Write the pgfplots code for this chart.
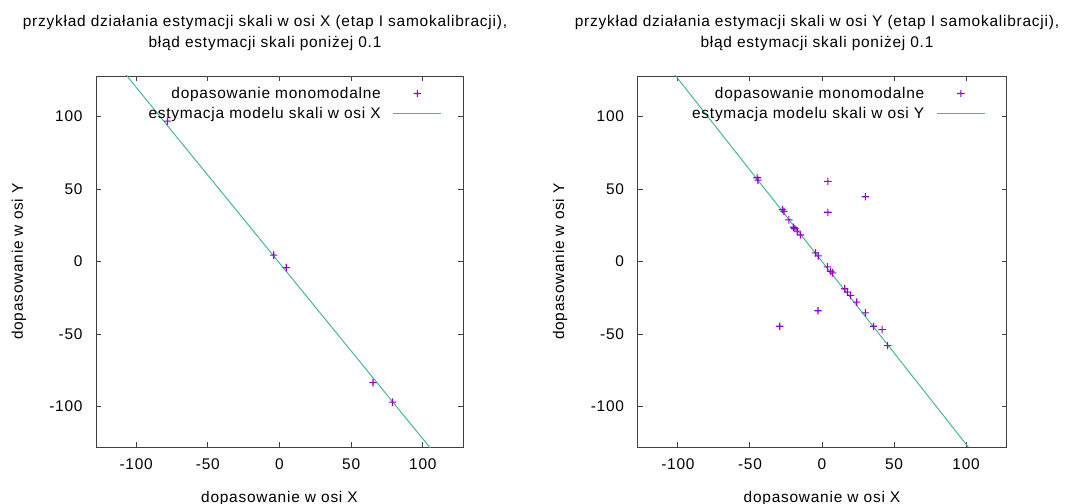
\documentclass[border=0pt]{standalone}
\usepackage{fontspec}
\setmainfont{Liberation Sans}[LetterSpace=5]
\usepackage{pgfplots}
\usepackage{pgfplotstable}
\pgfplotsset{compat=1.18}

\definecolor{gpviolet}{HTML}{9400D3}
\definecolor{gpgreen}{HTML}{44B894}
\newcommand{\gpfont}{\fontsize{15.5}{18}\selectfont}

% krzyzyk gnuplota rysowany jako dwa wypelnione prostokaty
\pgfdeclareplotmark{gpplus}{%
  \pgfpathrectangle{\pgfpoint{-\pgfplotmarksize}{-0.55bp}}{\pgfpoint{2\pgfplotmarksize}{1.1bp}}%
  \pgfpathrectangle{\pgfpoint{-0.55bp}{-\pgfplotmarksize}}{\pgfpoint{1.1bp}{2\pgfplotmarksize}}%
  \pgfusepathqfill}

% dopasowania i model -- os X
\pgfplotstableread{
x y
-78.1 96.9
-4.0 4.4
4.7 -4.2
65.2 -83.6
78.8 -97.0
}\ptsX
\pgfplotstableread{
x y
-120 144.5
120 -146.7
}\lineX

% dopasowania i model -- os Y
\pgfplotstableread{
x y
-45.0 57.8
-44.4 56.2
4.1 55.3
30.1 44.7
4.1 34.0
-27.4 35.8
-26.4 34.6
-23.0 28.7
-19.8 23.6
-18.8 22.6
-17.2 21.0
-14.9 18.3
-4.5 6.0
-2.6 3.9
3.7 -3.7
6.0 -6.7
7.4 -7.9
15.8 -18.8
17.6 -21.1
19.9 -23.4
24.1 -28.0
30.1 -35.4
-2.8 -34.0
-29.3 -44.7
35.7 -44.7
41.7 -47.0
45.5 -58.1
}\ptsY
\pgfplotstableread{
x y
-120 151.4
120 -151.4
}\lineY

\pgfplotsset{
  gp/.style={
    scale only axis,
    width=367bp, height=371bp,
    xmin=-128, xmax=128, ymin=-128, ymax=128,
    xtick={-100,-50,0,50,100},
    ytick={-100,-50,0,50,100},
    tick align=inside,
    major tick length=5bp,
    axis line style={draw=black!75, line width=0.9bp},
    tick style={draw=black!75, line width=0.9bp},
    /pgf/number format/assume math mode=true,
    ticklabel style={font=\gpfont},
    xticklabel style={yshift=-8bp},
    yticklabel style={xshift=-10bp},
    label style={font=\gpfont},
    xlabel style={at={(axis description cs:0.5,-0.1375)}, anchor=center},
    ylabel style={at={(axis description cs:-0.2099,0.5)}, anchor=center},
    xlabel={dopasowanie w osi X},
    ylabel={dopasowanie w osi Y},
    legend style={at={(axis description cs:1,1)}, anchor=north east,
      xshift=-18bp, yshift=-7bp,
      draw=none, fill=none, font=\gpfont,
      row sep=3.5bp, column sep=10bp},
    legend cell align=right,
    legend plot pos=right,
    legend image code/.code={
      \draw[mark repeat=2, mark phase=2, #1]
        plot coordinates {(0bp,0bp) (24bp,0bp) (48bp,0bp)};},
    every axis plot/.append style={line width=1bp},
  },
  pts/.style={only marks, mark=gpplus, mark size=3.7bp, fill=gpviolet,
    draw=gpviolet, mark options={fill=gpviolet, draw=none}},
  fit/.style={no marks, draw=gpgreen},
}

\begin{document}
\begin{tikzpicture}
\path[use as bounding box] (0,0) rectangle (1067bp,504bp);

\node[font=\gpfont, anchor=base] at (265bp,477bp)
  {przykład działania estymacji skali w osi X (etap I samokalibracji),};
\node[font=\gpfont, anchor=base] at (265bp,456bp)
  {błąd estymacji skali poniżej 0.1};
\node[font=\gpfont, anchor=base] at (817bp,477bp)
  {przykład działania estymacji skali w osi Y (etap I samokalibracji),};
\node[font=\gpfont, anchor=base] at (817bp,456bp)
  {błąd estymacji skali poniżej 0.1};

\begin{axis}[gp, at={(96bp,57bp)}, anchor=south west]
  \addplot[pts] table[x=x, y=y] {\ptsX};
  \addlegendentry{dopasowanie monomodalne}
  \addplot[fit] table[x=x, y=y] {\lineX};
  \addlegendentry{estymacja modelu skali w osi X}
\end{axis}

\begin{axis}[gp, at={(637.5bp,57bp)}, anchor=south west, width=369bp]
  \addplot[pts] table[x=x, y=y] {\ptsY};
  \addlegendentry{dopasowanie monomodalne}
  \addplot[fit] table[x=x, y=y] {\lineY};
  \addlegendentry{estymacja modelu skali w osi Y}
\end{axis}
\end{tikzpicture}
\end{document}
